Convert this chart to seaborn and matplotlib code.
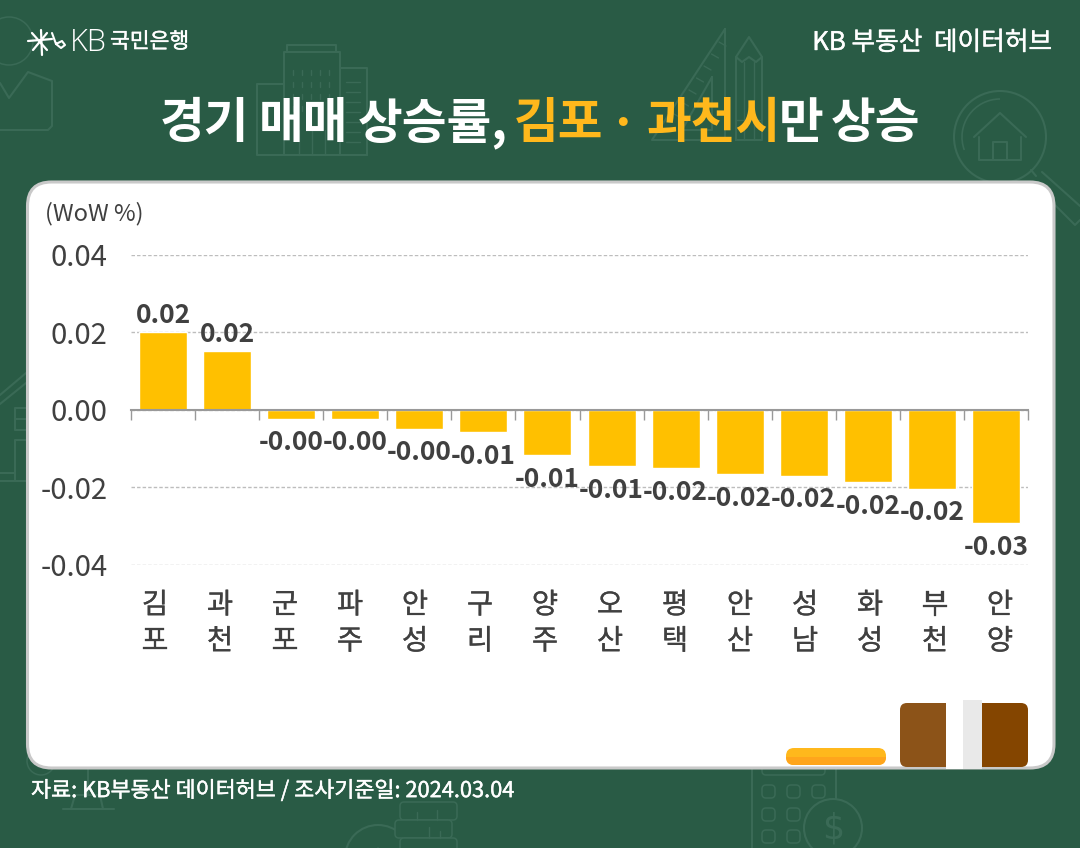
import matplotlib
matplotlib.use("Agg")
import matplotlib.patheffects as pe
import matplotlib.pyplot as plt
import pandas as pd
import seaborn as sns
from matplotlib.patches import Circle, Arc, FancyBboxPatch, Rectangle
from matplotlib.ticker import FixedLocator
from matplotlib.transforms import ScaledTranslation

# chart values
regions = ["김포", "과천", "군포", "파주", "안성", "구리", "양주", "오산", "평택", "안산", "성남", "화성", "부천", "안양"]
wow_change = [0.0200, 0.0151, -0.0023, -0.0023, -0.0049, -0.0058, -0.0118, -0.0146,
              -0.0151, -0.0167, -0.0171, -0.0187, -0.0205, -0.0294]
y_ticks = [-0.04, -0.02, 0.00, 0.02, 0.04]

BG = "#295B45"
ICON = "#3A6A56"
TEXT = "#404040"
YELLOW = "#FFB81C"
FONT = ["Noto Sans CJK KR", "DejaVu Sans"]
MEDIUM_W = [pe.withStroke(linewidth=0.3, foreground="white")]
MEDIUM_D = [pe.withStroke(linewidth=0.2, foreground=TEXT)]

sns.set_theme(style="white")
plt.rcParams["font.family"] = FONT

fig = plt.figure(figsize=(10.8, 8.48), dpi=100, facecolor=BG)

# full-figure layer in pixel coordinates for the card and decorations
bg = fig.add_axes([0, 0, 1, 1], zorder=0)
bg.set_xlim(0, 1080)
bg.set_ylim(848, 0)
bg.axis("off")


def pline(points, color=ICON, lw=1.5, zorder=1):
    xs, ys = zip(*points)
    bg.plot(xs, ys, color=color, lw=lw, zorder=zorder, solid_capstyle="round", solid_joinstyle="round")


def rrect(x0, y0, x1, y1, r, fc="none", ec=ICON, lw=1.1, zorder=1):
    patch = FancyBboxPatch((x0 + r, y0 + r), x1 - x0 - 2 * r, y1 - y0 - 2 * r,
                           boxstyle=f"round,pad={r},rounding_size={r}", fc=fc, ec=ec, lw=lw, zorder=zorder)
    bg.add_patch(patch)
    return patch


# background icons
# person
bg.add_patch(Circle((9, 41), 24, fc="none", ec=ICON, lw=1.1, zorder=1))
pline([(0, 83), (9, 98), (28, 72), (52, 81), (52, 126), (48, 130), (0, 130)])
# buildings
pline([(287, 52), (287, 45), (336, 45), (336, 52)])
pline([(284, 155), (284, 52), (340, 52), (340, 155)])
pline([(340, 68), (367, 68), (367, 155)])
pline([(284, 84), (257, 84), (257, 155), (367, 155)])
for wx in [293, 302, 311, 320, 329]:
    for wy in [70, 82, 94, 106]:
        pline([(wx, wy), (wx, wy + 5)], lw=1.0)
for wy in [82, 92, 102, 112, 122, 132, 142]:
    pline([(346, wy), (360, wy)], lw=1.0)
for wx in [299, 312, 325]:
    pline([(wx, 155), (wx, 130)], lw=1.0)
# set square and pencil
pline([(725, 29), (725, 140), (652, 140), (725, 29)])
pline([(712, 77), (712, 130), (682, 130), (712, 77)])
for t in range(7):
    tx = 719 - 7.5 * t
    ty = 42 + 12 * t
    pline([(tx, ty), (tx + 7, ty + 4)], lw=1.0)
pline([(736, 140), (736, 57), (749, 37), (762, 57), (762, 140), (736, 140)])
pline([(736, 57), (742, 62), (749, 57), (756, 62), (762, 57)])
pline([(744, 62), (744, 140)], lw=1.0)
pline([(754, 62), (754, 140)], lw=1.0)
pline([(736, 120), (762, 120)], lw=1.0)
# magnifier with house
bg.add_patch(Circle((1000, 137), 46, fc="none", ec=ICON, lw=1.5, zorder=1))
bg.add_patch(Arc((1000, 137), 76, 76, theta1=160, theta2=270, ec=ICON, lw=1.2, zorder=1))
pline([(974, 137), (1000, 113), (1026, 137)])
pline([(979, 137), (979, 160), (1021, 160), (1021, 137)])
pline([(993, 160), (993, 142), (1007, 142), (1007, 160)])
pline([(1031, 170), (1036, 176)])
pline([(1042, 172), (1080, 206)])
pline([(1055, 205), (1075, 225), (1080, 220)])
# house on the left edge
pline([(0, 395), (26, 373)])
pline([(0, 404), (26, 383)])
pline([(26, 408), (15, 408), (15, 430), (26, 430)])
pline([(15, 419), (26, 419)])
pline([(26, 440), (15, 440), (15, 480)])
pline([(0, 473), (15, 473)])
pline([(0, 481), (26, 481)])
# calculator and dollar coin
pline([(752, 768), (752, 848)])
pline([(836, 768), (836, 800)])
rrect(762, 762, 825, 775, 4)
for cx in [762, 787, 812]:
    for cy in [785, 808, 830]:
        if cx == 812 and cy > 785:
            continue
        rrect(cx, cy, cx + 13, cy + 13, 4)
bg.add_patch(Circle((833, 828), 29, fc=BG, ec=ICON, lw=1.5, zorder=1))
bg.text(833, 828, "$", color=ICON, fontsize=25, ha="center", va="center", family=["DejaVu Sans"], zorder=1)
# lamp and coins at the bottom
bg.add_patch(Circle((41, 761), 14, fc="none", ec=ICON, lw=1.1, zorder=1))
pline([(88, 770), (88, 795)])
pline([(71, 809), (75, 795), (100, 795), (103, 809)])
pline([(63, 809), (114, 809)])
bg.add_patch(Circle((378, 858), 33, fc="none", ec=ICON, lw=1.5, zorder=1))
rrect(400, 802, 457, 820, 4, fc=BG)
rrect(395, 820, 452, 838, 4, fc=BG)
rrect(400, 838, 457, 856, 4, fc=BG)
pline([(417, 812), (417, 820)], lw=1.0)
pline([(437, 810), (437, 820)], lw=1.0)
pline([(429, 827), (429, 838)], lw=1.0)
pline([(440, 831), (440, 838)], lw=1.0)
pline([(378, 848), (378, 852)], lw=1.2)

# white card
rrect(27.5, 182, 1054, 768, 24, fc="white", ec="#C9C9C9", lw=2.2, zorder=2)

# covered legend shapes in the bottom right of the card
pill_top = rrect(786, 748, 886, 765, 8, fc=YELLOW, ec="none", lw=0, zorder=3)
pill_low = rrect(786, 748, 886, 765, 8, fc="#FFA51C", ec="none", lw=0, zorder=4)
pill_low.set_clip_path(Rectangle((780, 757), 110, 12, transform=bg.transData))
rrect(900, 703, 970, 767, 7, fc="#8C5318", ec="none", lw=0, zorder=3)
rrect(975, 703, 1028, 767, 7, fc="#844500", ec="none", lw=0, zorder=3)
bg.add_patch(Rectangle((946, 700), 17, 69, fc="white", ec="none", zorder=4))
bg.add_patch(Rectangle((963, 700), 19, 69, fc="#E9E9E9", ec="none", zorder=4))

# logo
for p0, p1 in [((28, 41), (52, 39)), ((32, 33), (47, 50)), ((33, 50), (47, 33)), ((41, 30), (42, 55))]:
    pline([p0, p1], color="white", lw=1.6, zorder=3)
pline([(52, 33), (56, 44), (61, 48), (65, 45), (62, 41), (56, 44)], color="white", lw=1.5, zorder=3)
bg.text(70, 43, "KB", color="white", fontsize=22, va="center", ha="left", family=["Open Sans"], weight="light", zorder=3)
bg.text(110, 42, "국민은행", color="white", fontsize=15.5, va="center", ha="left", zorder=3, path_effects=MEDIUM_W)

# header texts
bg.text(1052, 43, "KB 부동산  데이터허브", color="white", fontsize=18.5, va="center", ha="right", zorder=3, path_effects=MEDIUM_W)
title_y = 124
for word, x, color in [("경기", 160, "white"), ("매매", 259, "white"), ("상승률,", 358, "white"),
                       ("김포", 514, YELLOW), ("·", 608, YELLOW), ("과천시", 646, YELLOW),
                       ("만", 779, "white"), ("상승", 831, "white")]:
    bg.text(x, title_y, word, color=color, fontsize=35, weight="bold", va="center", ha="left", zorder=3)
bg.text(31, 791, "자료: KB부동산 데이터허브 / 조사기준일: 2024.03.04", color="white", fontsize=15.7, va="center", ha="left",
        zorder=3, path_effects=MEDIUM_W)
bg.text(45, 214, "(WoW %)", color=TEXT, fontsize=17, va="center", ha="left", zorder=3)

# bar chart
df = pd.DataFrame({"region": regions, "wow": wow_change})
ax = fig.add_axes([131 / 1080, (848 - 564.5) / 848, 897 / 1080, 309.5 / 848], zorder=5)
ax.patch.set_alpha(0)
sns.barplot(data=df, x="region", y="wow", color="#FFC000", saturation=1, width=0.75, ax=ax)
ax.set_xlim(-0.5, len(regions) - 0.5)
ax.set_ylim(-0.04, 0.04)
ax.set_xlabel("")
ax.set_ylabel("")

ax.set_yticks(y_ticks)
ax.set_yticklabels([f"{v:.2f}" for v in y_ticks])
ax.tick_params(axis="y", length=0, pad=17, labelsize=21, labelcolor=TEXT)
ax.set_axisbelow(True)
ax.yaxis.grid(True, color="#BDBDBD", linestyle=(0, (2.5, 1.5)), linewidth=1)

for side in ["top", "left", "right"]:
    ax.spines[side].set_visible(False)
ax.spines["bottom"].set_position(("data", 0))
ax.spines["bottom"].set_color("#999999")
ax.spines["bottom"].set_linewidth(1.5)

ax.set_xticks(range(len(regions)))
ax.set_xticklabels(["\n".join(r) for r in regions], linespacing=1.27)
ax.xaxis.set_minor_locator(FixedLocator([i - 0.5 for i in range(len(regions) + 1)]))
ax.tick_params(axis="x", which="major", length=0, pad=130, labelsize=20.5, labelcolor=TEXT)
ax.tick_params(axis="x", which="minor", length=7, width=1, color="#999999", bottom=True)

# the category labels sit on a slightly wider spacing than the bars
for i, label in enumerate(ax.get_xticklabels()):
    shift = (-8 + 0.93 * i) / 100
    label.set_transform(label.get_transform() + ScaledTranslation(shift, 0, fig.dpi_scale_trans))
    label.set_path_effects(MEDIUM_D)

bar_labels = ax.bar_label(ax.containers[0], fmt="%.2f", padding=5, fontsize=19, fontweight="bold", color=TEXT)
for t in bar_labels:
    t.xyann = (t.xyann[0], t.xyann[1] - 2.5)

fig.savefig("out.png", dpi=100, facecolor=BG)
